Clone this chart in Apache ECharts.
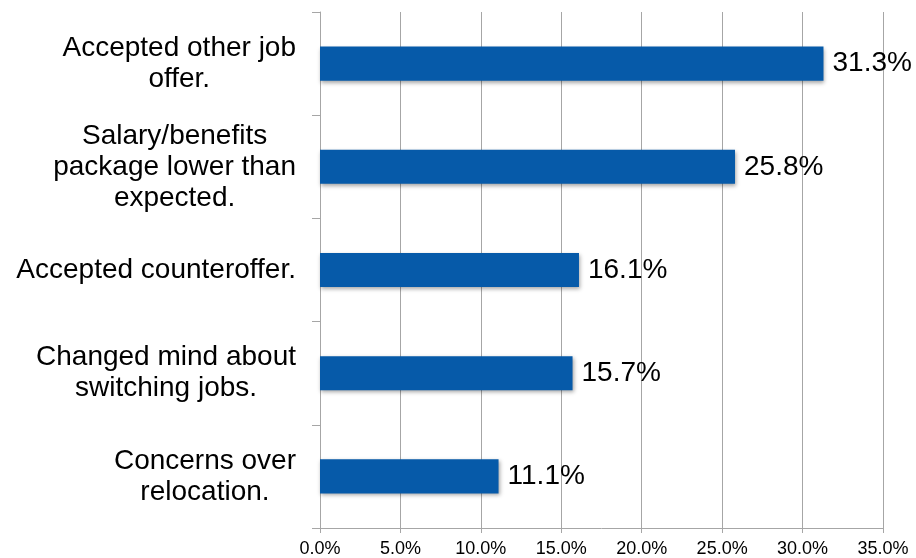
<!DOCTYPE html>
<html>
<head>
<meta charset="utf-8">
<script src="https://cdn.jsdelivr.net/npm/echarts@6/dist/echarts.min.js"></script>
<style>
  html, body { margin: 0; padding: 0; background: #ffffff; }
  #chart { width: 916px; height: 558px; }
</style>
</head>
<body>
<div id="chart"></div>
<script>
// Reasons for declining a job offer (share of respondents, %)
const categories = [
  'Accepted other job\noffer.',
  'Salary/benefits\npackage lower than\nexpected.',
  'Accepted counteroffer.',
  'Changed mind about\nswitching jobs.',
  'Concerns over\nrelocation.'
];
const values = [31.3, 25.8, 16.1, 15.7, 11.1];
const tickLabels = ['0.0%', '5.0%', '10.0%', '15.0%', '20.0%', '25.0%', '30.0%', '35.0%'];

const FONT = '"Liberation Sans", Arial, Helvetica, sans-serif';
const GRID_GRAY = '#a6a6a6';

const chart = echarts.init(document.getElementById('chart'), null, { renderer: 'canvas' });

chart.setOption({
  animation: false,
  backgroundColor: '#ffffff',
  grid: { left: 320, right: 33, top: 12, bottom: 30, containLabel: false },
  xAxis: {
    type: 'value',
    min: 0,
    max: 35,
    interval: 5,
    axisLine: { show: true, lineStyle: { color: GRID_GRAY, width: 1 } },
    axisTick: { show: true, length: 5, lineStyle: { color: GRID_GRAY } },
    splitLine: { show: true, lineStyle: { color: GRID_GRAY, width: 1 } },
    axisLabel: {
      margin: 12,
      fontFamily: FONT,
      fontSize: 18,
      color: '#000000',
      formatter: (v) => tickLabels[Math.round(v / 5)]
    }
  },
  yAxis: {
    type: 'category',
    data: categories,
    inverse: true,
    axisLine: { show: true, lineStyle: { color: GRID_GRAY, width: 1 } },
    axisTick: { show: true, length: 8, alignWithLabel: false, lineStyle: { color: GRID_GRAY } },
    splitLine: { show: false },
    axisLabel: {
      margin: 24,
      align: 'right',
      fontFamily: FONT,
      fontSize: 28,
      lineHeight: 31,
      color: '#000000',
      // each line is centred within the right-aligned label block
      formatter: (v) => v.split('\n').map((s) => '{c|' + s + '}').join('\n'),
      rich: {
        c: { align: 'center', fontFamily: FONT, fontSize: 28, lineHeight: 31, color: '#000000' }
      }
    }
  },
  series: [{
    type: 'bar',
    data: values,
    barWidth: '33%',
    itemStyle: {
      color: '#065aa9',
      shadowColor: 'rgba(0,0,0,0.35)',
      shadowBlur: 4,
      shadowOffsetX: 1,
      shadowOffsetY: 2
    },
    label: {
      show: true,
      position: 'right',
      distance: 9,
      fontFamily: FONT,
      fontSize: 28,
      color: '#000000',
      formatter: (p) => p.value.toFixed(1) + '%'
    }
  }]
});
</script>
</body>
</html>
